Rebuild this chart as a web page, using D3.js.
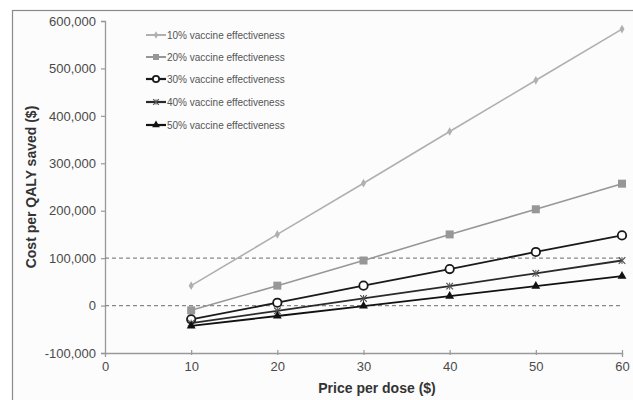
<!DOCTYPE html>
<html>
<head>
<meta charset="utf-8">
<script src="https://cdn.jsdelivr.net/npm/d3@7"></script>
<style>
  body { margin: 0; background: #fff; }
  svg { display: block; font-family: "Liberation Sans", Arial, sans-serif; }
</style>
</head>
<body>
<svg id="chart" width="633" height="400"></svg>
<script>
const prices = [10, 20, 30, 40, 50, 60];
const seriesNames = [
  "10% vaccine effectiveness",
  "20% vaccine effectiveness",
  "30% vaccine effectiveness",
  "40% vaccine effectiveness",
  "50% vaccine effectiveness"
];
const eff10 = [42000, 150000, 258000, 367000, 475000, 583000];
const eff20 = [-10000, 42000, 95000, 150000, 203000, 257000];
const eff30 = [-29000, 6000, 42000, 77000, 113000, 148000];
const eff40 = [-37000, -11000, 15000, 41000, 68000, 95000];
const eff50 = [-43000, -22000, -1000, 20000, 41000, 62000];
const xTicks = [0, 10, 20, 30, 40, 50, 60];
const yTicks = [-100000, 0, 100000, 200000, 300000, 400000, 500000, 600000];
const refLines = [0, 100000];

const svg = d3.select("#chart");
const margin = { left: 105, right: 11, top: 21, bottom: 47 };
const width = 633, height = 400;

// frame
svg.append("rect").attr("x", 12.5).attr("y", 10.5)
  .attr("width", 640).attr("height", 400)
  .attr("fill", "#fcfcfc").attr("stroke", "#8a8a8a").attr("stroke-width", 1.2);

const x = d3.scaleLinear().domain([0, 60]).range([margin.left, width - margin.right]);
const y = d3.scaleLinear().domain([-100000, 600000]).range([height - margin.bottom, margin.top]);

const fmt = d => d3.format(",")(d).replace("\u2212", "-");

const yAxis = svg.append("g")
  .attr("transform", `translate(${margin.left},0)`)
  .call(d3.axisLeft(y).tickValues(yTicks).tickFormat(fmt).tickSize(4).tickPadding(5));
const xAxis = svg.append("g")
  .attr("transform", `translate(0,${y(-100000)})`)
  .call(d3.axisBottom(x).tickValues(xTicks).tickSize(4).tickPadding(5));

[yAxis, xAxis].forEach(ax => {
  ax.select(".domain").attr("stroke", "#999").attr("stroke-width", 1.3);
  ax.selectAll(".tick line").attr("stroke", "#999").attr("stroke-width", 1.2);
  ax.selectAll(".tick text").attr("fill", "#4a4a4a").attr("font-size", 13)
    .attr("font-family", "Liberation Sans, Arial, sans-serif");
});
// x ticks: short nub across the axis line
xAxis.selectAll(".tick line").attr("y1", -3).attr("y2", 2);
xAxis.selectAll(".tick").filter(d => d === 0).select("line").remove();

// dashed reference lines
svg.selectAll("line.ref").data(refLines).join("line")
  .attr("class", "ref")
  .attr("x1", x(0)).attr("x2", x(60))
  .attr("y1", d => y(d)).attr("y2", d => y(d))
  .attr("stroke", "#888").attr("stroke-width", 1.2)
  .attr("stroke-dasharray", "4,3");

const series = [
  { name: seriesNames[0], values: eff10, color: "#b0b0b0", marker: "diamond", width: 1.6 },
  { name: seriesNames[1], values: eff20, color: "#979797", marker: "square", width: 1.6 },
  { name: seriesNames[2], values: eff30, color: "#1a1a1a", marker: "circle", width: 1.8 },
  { name: seriesNames[3], values: eff40, color: "#2a2a2a", marker: "star", width: 1.8 },
  { name: seriesNames[4], values: eff50, color: "#111", marker: "triangle", width: 1.8 }
];

const line = d3.line().x((d, i) => x(prices[i])).y(d => y(d));

function drawMarker(g, type, color, cx, cy, s) {
  if (type === "diamond") {
    g.append("path").attr("d", d3.symbol(d3.symbolDiamond, 22 * s)())
      .attr("transform", `translate(${cx},${cy})`).attr("fill", color);
  } else if (type === "square") {
    g.append("rect").attr("x", cx - 4 * s).attr("y", cy - 4 * s)
      .attr("width", 8 * s).attr("height", 8 * s).attr("fill", color);
  } else if (type === "circle") {
    g.append("circle").attr("cx", cx).attr("cy", cy).attr("r", 4.2 * s)
      .attr("fill", "#fff").attr("stroke", color).attr("stroke-width", 1.8);
  } else if (type === "star") {
    g.append("path").attr("d", d3.symbol(d3.symbolTimes, 30 * s)())
      .attr("transform", `translate(${cx},${cy})`)
      .attr("fill", "none").attr("stroke", "#555").attr("stroke-width", 1.2);
    g.append("path").attr("d", `M${cx},${cy - 3.5 * s}V${cy + 3.5 * s}`)
      .attr("stroke", "#555").attr("stroke-width", 1);
  } else if (type === "triangle") {
    g.append("path").attr("d", d3.symbol(d3.symbolTriangle, 34 * s)())
      .attr("transform", `translate(${cx},${cy})`).attr("fill", color);
  }
}

series.forEach(s => {
  const g = svg.append("g");
  g.append("path").datum(s.values).attr("d", line)
    .attr("fill", "none").attr("stroke", s.color).attr("stroke-width", s.width);
  s.values.forEach((v, i) => drawMarker(g, s.marker, s.color, x(prices[i]), y(v), 1));
});

// legend
const legendY = [35, 57, 79, 102, 125];
series.forEach((s, i) => {
  const g = svg.append("g");
  const ly = legendY[i];
  g.append("line").attr("x1", 146).attr("x2", 166).attr("y1", ly).attr("y2", ly)
    .attr("stroke", s.color).attr("stroke-width", s.width + 0.4);
  drawMarker(g, s.marker, s.color, 156, ly, 0.75);
  g.append("text").attr("x", 167).attr("y", ly).attr("dy", "0.35em")
    .attr("font-size", 10).attr("fill", "#555").text(s.name);
});

// axis titles
svg.append("text")
  .attr("transform", `translate(36,${(margin.top + height - margin.bottom) / 2}) rotate(-90)`)
  .attr("text-anchor", "middle").attr("font-size", 14).attr("font-weight", "bold")
  .attr("fill", "#333").text("Cost per QALY saved ($)");
svg.append("text")
  .attr("x", 377).attr("y", 393).attr("text-anchor", "middle")
  .attr("font-size", 14).attr("font-weight", "bold").attr("fill", "#333")
  .text("Price per dose ($)");
</script>
</body>
</html>
